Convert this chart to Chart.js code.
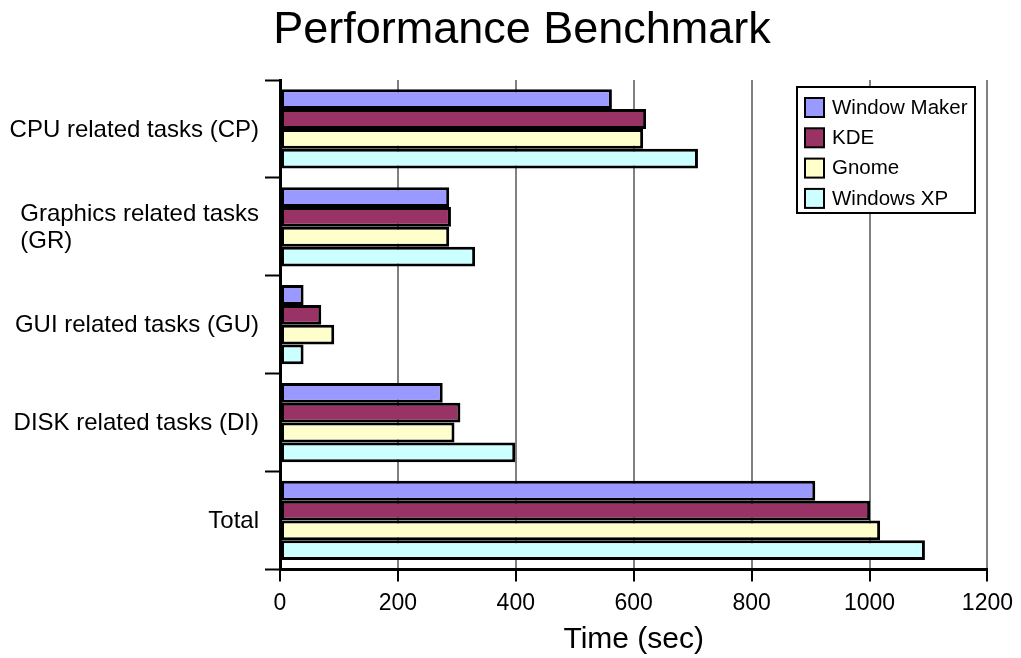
<!DOCTYPE html>
<html>
<head>
<meta charset="utf-8">
<script src="https://cdn.jsdelivr.net/npm/chart.js@4.4.1/dist/chart.umd.min.js"></script>
<style>
  html, body { margin: 0; padding: 0; background: #fff; }
  #wrap { width: 1021px; height: 658px; }
</style>
</head>
<body>
<div id="wrap"><canvas id="benchChart"></canvas></div>
<script>
// ---- data ----
const categories = [
    'CPU related tasks (CP)',
    ['Graphics related tasks', '(GR)'],
    'GUI related tasks (GU)',
    'DISK related tasks (DI)',
    'Total'
];
const seriesNames = ['Window Maker', 'KDE', 'Gnome', 'Windows XP'];
const windowMaker = [563, 287, 40, 276, 908];
const kde = [621, 290, 70, 306, 1001];
const gnome = [616, 287, 92, 296, 1018];
const windowsXP = [709, 331, 40, 399, 1094];
const xTicks = [0, 200, 400, 600, 800, 1000, 1200];

const FONT = '"Liberation Sans", Arial, sans-serif';
const COLORS = ['#9999ff', '#993366', '#ffffcc', '#ccffff'];

// y labels: block right-aligned to the axis, lines left-aligned inside the block
const yLabelPlugin = {
    id: 'yLabels',
    afterDraw(chart) {
        const ctx = chart.ctx;
        const y = chart.scales.y;
        const left = chart.chartArea.left;
        ctx.save();
        ctx.font = '24px ' + FONT;
        ctx.fillStyle = '#000';
        ctx.textBaseline = 'middle';
        ctx.textAlign = 'left';
        categories.forEach((lab, i) => {
            const lines = Array.isArray(lab) ? lab : [lab];
            const w = Math.max(...lines.map(l => ctx.measureText(l).width));
            const x0 = left - 21 - w;
            const cy = y.getPixelForTick(i);
            const lh = 27;
            lines.forEach((l, k) => {
                ctx.fillText(l, x0, cy + (k - (lines.length - 1) / 2) * lh + 1);
            });
        });
        ctx.restore();
    }
};

// boxed legend sitting inside the plot, top right
const boxLegendPlugin = {
    id: 'boxLegend',
    afterDraw(chart) {
        const ctx = chart.ctx;
        const bx = 797, by = 87, bw = 178, bh = 126;
        ctx.save();
        ctx.fillStyle = '#fff';
        ctx.fillRect(bx, by, bw, bh);
        ctx.lineWidth = 2;
        ctx.strokeStyle = '#000';
        ctx.strokeRect(bx, by, bw, bh);
        ctx.font = '20.5px ' + FONT;
        ctx.textBaseline = 'middle';
        ctx.textAlign = 'left';
        chart.data.datasets.forEach((ds, i) => {
            const cy = by + 20 + i * 30.3;
            ctx.fillStyle = ds.backgroundColor;
            ctx.fillRect(bx + 8, cy - 9, 19, 19);
            ctx.lineWidth = 2;
            ctx.strokeRect(bx + 8, cy - 9, 19, 19);
            ctx.fillStyle = '#000';
            ctx.fillText(ds.label, bx + 35, cy + 1);
        });
        ctx.restore();
    }
};

const seriesData = [windowMaker, kde, gnome, windowsXP];

new Chart(document.getElementById('benchChart'), {
    type: 'bar',
    data: {
        labels: categories,
        datasets: seriesNames.map((name, i) => ({
            label: name,
            data: seriesData[i],
            backgroundColor: COLORS[i],
            borderColor: '#000',
            borderWidth: 3,
            borderSkipped: false,
            barPercentage: 1,
            categoryPercentage: 0.81
        }))
    },
    options: {
        indexAxis: 'y',
        responsive: true,
        maintainAspectRatio: false,
        animation: false,
        layout: { autoPadding: false, padding: { left: 50, right: 27, top: 0, bottom: 3 } },
        scales: {
            x: {
                type: 'linear',
                min: 0,
                max: 1200,
                afterBuildTicks: (axis) => { axis.ticks = xTicks.map(v => ({ value: v })); },
                ticks: {
                    font: { size: 23, family: FONT }, color: '#000', padding: 8, maxRotation: 0,
                    callback: (v) => String(v)
                },
                grid: { color: '#808080', lineWidth: 2, tickColor: '#000', tickLength: 12, tickWidth: 2 },
                border: { color: '#000', width: 3 },
                title: {
                    display: true, text: 'Time (sec)', color: '#000',
                    font: { size: 30, family: FONT, lineHeight: 1 }, padding: { top: 0, bottom: 0 }
                }
            },
            y: {
                afterFit: (scale) => { scale.width = 230; },
                ticks: { display: false },
                grid: {
                    display: true, drawOnChartArea: false, drawTicks: true, offset: true,
                    tickLength: 15, tickColor: '#000', tickWidth: 2
                },
                border: { color: '#000', width: 3 }
            }
        },
        plugins: {
            legend: { display: false },
            tooltip: { enabled: false },
            title: {
                display: true, text: 'Performance Benchmark', color: '#000',
                font: { size: 45, weight: 'normal', family: FONT },
                padding: { top: 4, bottom: 22 }
            }
        }
    },
    plugins: [yLabelPlugin, boxLegendPlugin]
});
</script>
</body>
</html>
